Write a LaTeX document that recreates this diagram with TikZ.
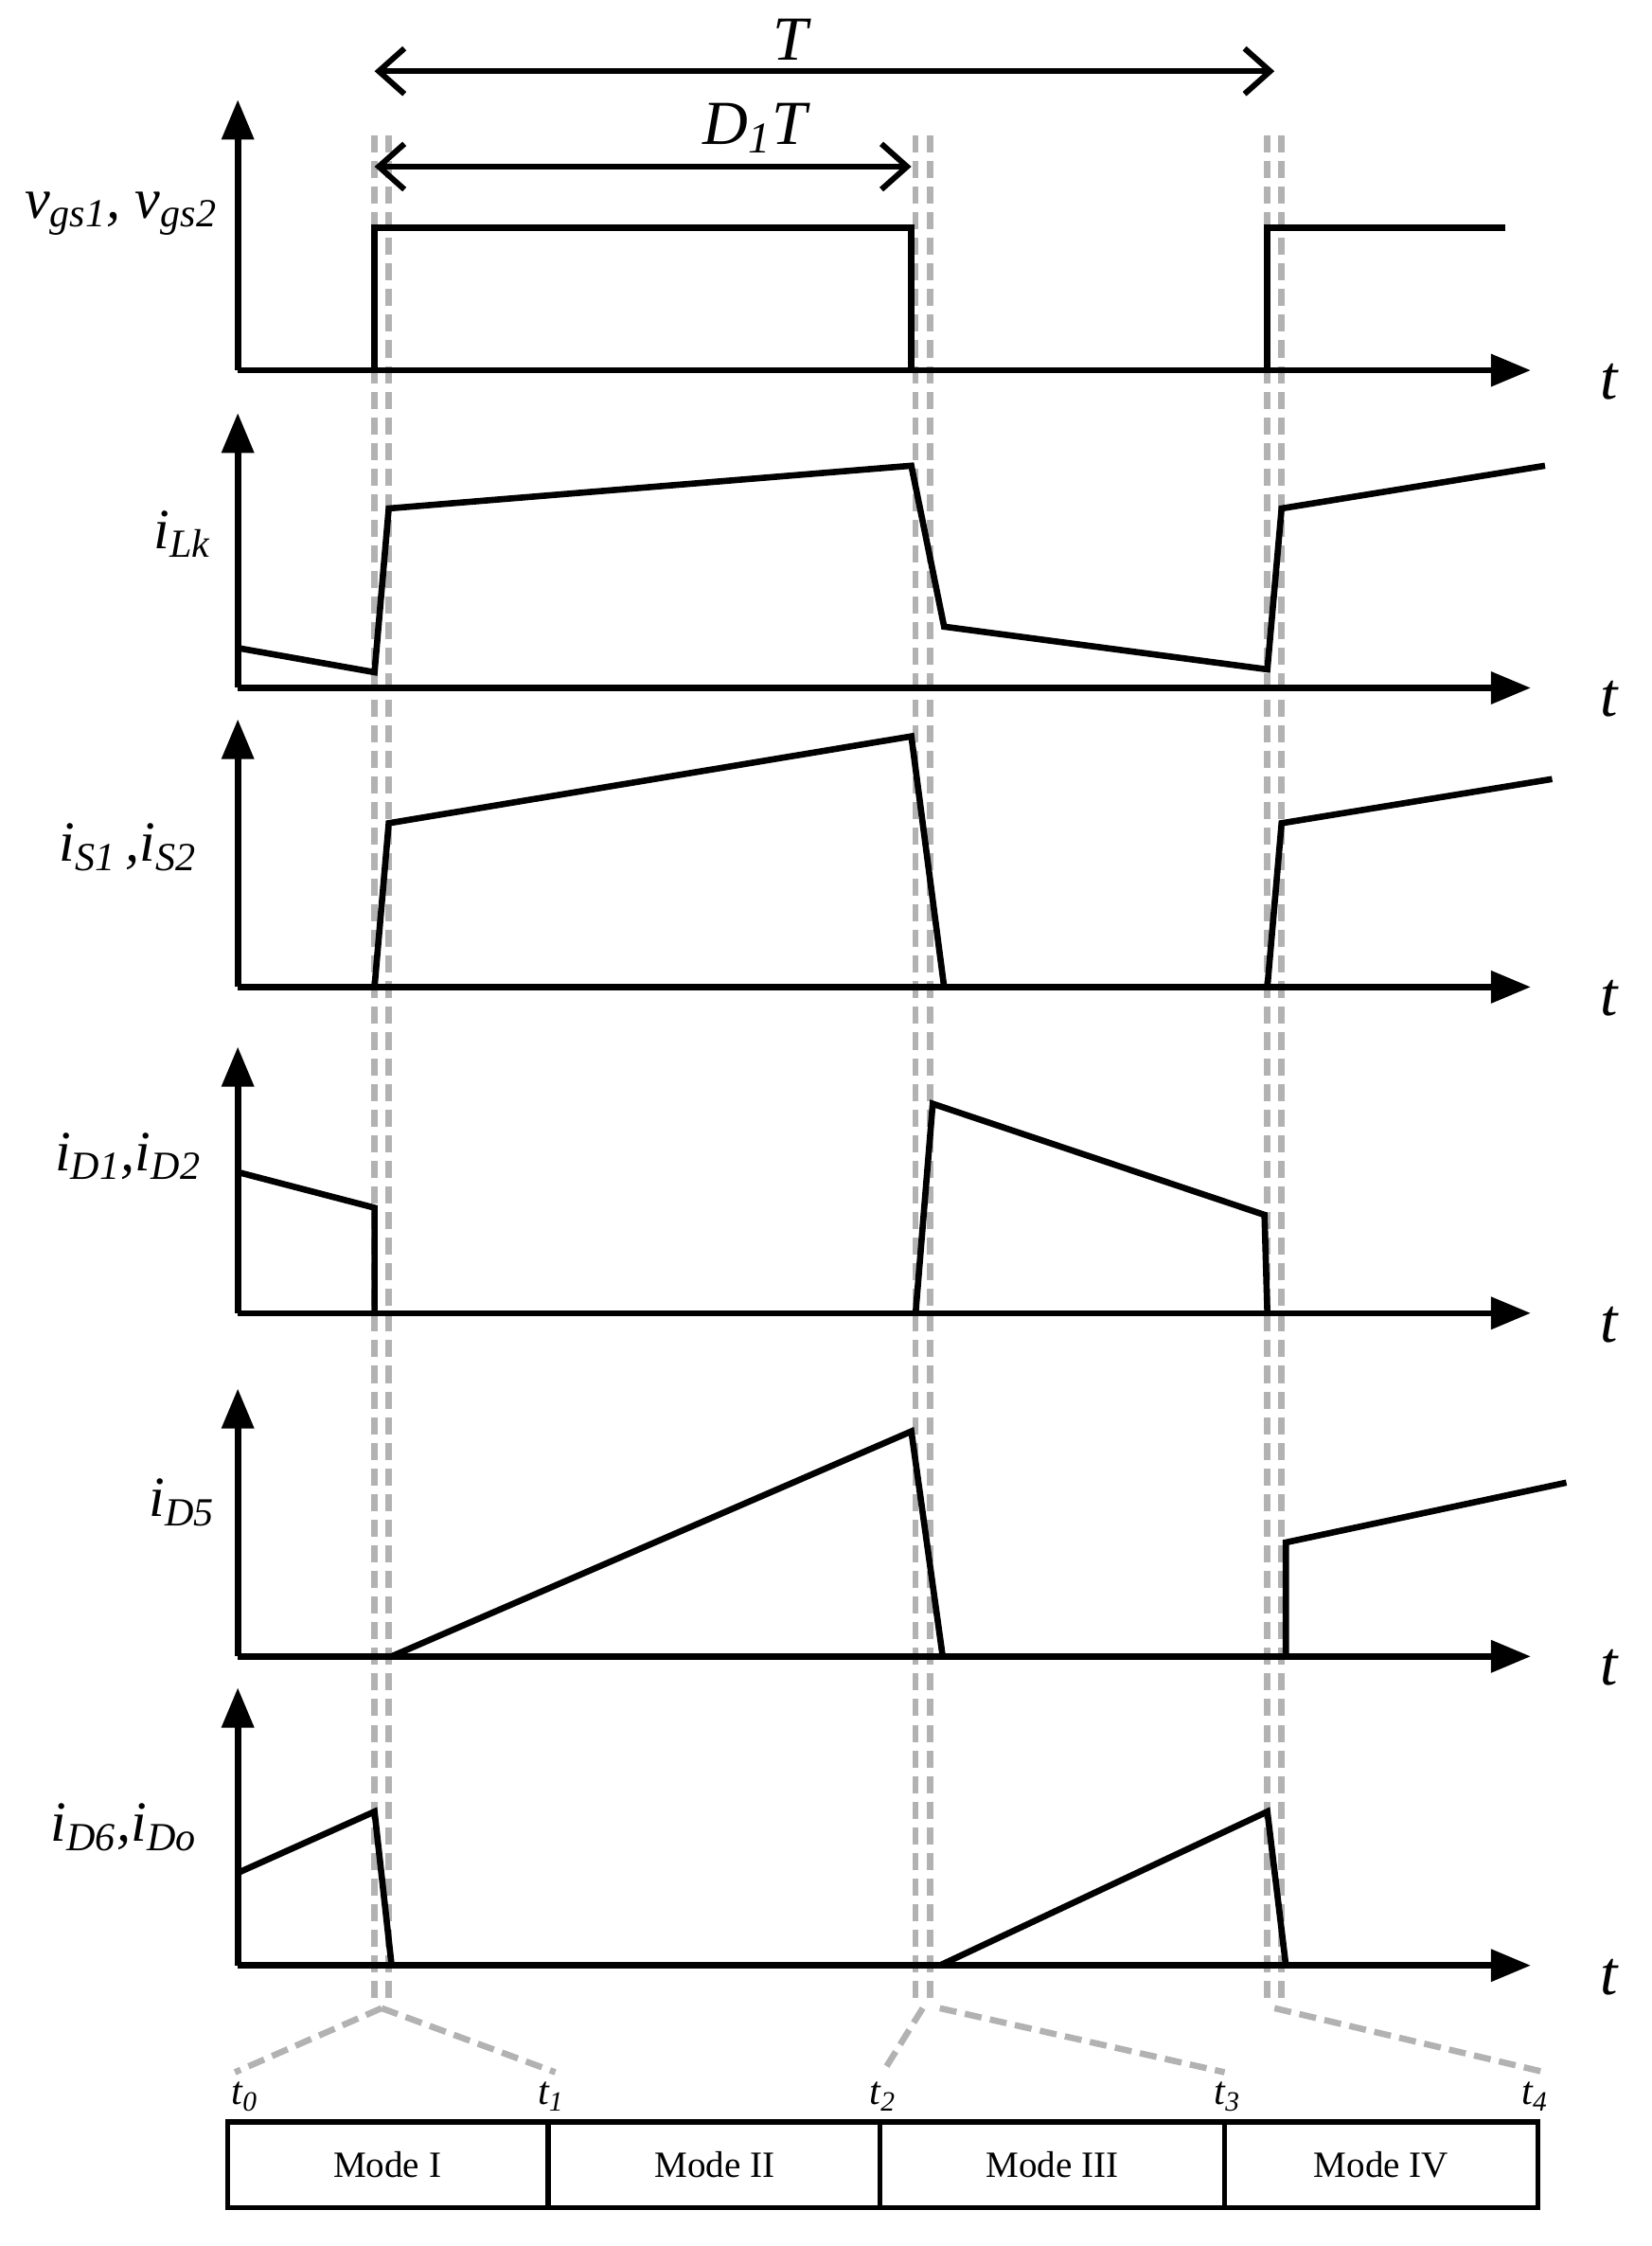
\documentclass[tikz,border=0pt]{standalone}
\usepackage{fontspec}
\setmainfont{Liberation Serif}
\usetikzlibrary{arrows.meta}
\begin{document}
\begin{tikzpicture}[x=0.5pt,y=-0.5pt,
  wave/.style={line width=2.2pt,line join=miter},
  axis/.style={line width=2.2pt,-{Triangle[length=14pt,width=11pt]}},
  guide/.style={gray!60,line width=2.2pt,dash pattern=on 6pt off 3pt},
  lab/.style={font=\fontsize{20}{22}\selectfont\itshape},
  tl/.style={font=\fontsize{22}{24}\selectfont\itshape},
  dim/.style={line width=2pt,{Straight Barb[length=9pt,width=16pt]}-{Straight Barb[length=9pt,width=16pt]}}]
\useasboundingbox (0,0) rectangle (1160,1577);
% guides
\foreach \x in {263,273,643,653,890,900}{\draw[guide] (\x,95) -- (\x,1408);}
\draw[guide] (268,1410) -- (165,1455);
\draw[guide] (268,1410) -- (390,1455);
\draw[guide] (648,1410) -- (620,1455);
\draw[guide] (660,1410) -- (860,1455);
\draw[guide] (895,1410) -- (1085,1455);
% axes
\foreach \b/\t in {260/70,483/290,693/505,922/735,1163/975,1380/1185}{
  \draw[axis] (167,\b) -- (167,\t);
  \draw[axis] (167,\b) -- (1075,\b);
  \node[tl] at (1130,\b+8) {t};
}
% waves
\draw[wave] (167,260)--(263,260)--(263,160)--(640,160)--(640,260)--(890,260)--(890,160)--(1057,160);
\draw[wave] (167,455)--(263,472)--(273,357)--(640,327)--(663,440)--(890,470)--(900,357)--(1085,327);
\draw[wave] (263,693)--(273,578)--(640,517)--(663,693);
\draw[wave] (890,693)--(900,578)--(1090,547);
\draw[wave] (167,823)--(263,848)--(263,922);
\draw[wave] (643,922)--(655,775)--(888,853)--(890,922);
\draw[wave] (275,1163)--(640,1005)--(662,1163);
\draw[wave] (903,1163)--(903,1083)--(1100,1041);
\draw[wave] (167,1315)--(263,1272)--(275,1380);
\draw[wave] (660,1380)--(890,1272)--(903,1380);
% dims
\draw[dim] (263,50) -- (895,50);
\node[tl] at (555,28) {T};
\draw[dim] (263,117) -- (640,117);
\node[tl] at (530,90) {D\textsubscript{1}T};
% labels
\node[lab] at (85,150) {v\textsubscript{gs1}, v\textsubscript{gs2}};
\node[lab] at (128,375) {i\textsubscript{Lk}};
\node[lab] at (90,595) {i\textsubscript{S1}\,,i\textsubscript{S2}};
\node[lab] at (90,812) {i\textsubscript{D1},i\textsubscript{D2}};
\node[lab] at (128,1055) {i\textsubscript{D5}};
\node[lab] at (87,1283) {i\textsubscript{D6},i\textsubscript{Do}};
% t labels
\foreach \x/\n in {172/0,387/1,620/2,862/3,1078/4}{\node[font=\fontsize{14}{16}\selectfont\itshape] at (\x,1472) {t\textsubscript{\n}};}
% mode box
\draw[line width=1.8pt] (160,1490) rectangle (1080,1550);
\foreach \x in {385,618,860}{\draw[line width=1.8pt] (\x,1490)--(\x,1550);}
\foreach \x/\m in {272/I,502/II,739/III,970/IV}{\node[font=\fontsize{13}{15}\selectfont] at (\x,1520) {Mode \m};}
\end{tikzpicture}
\end{document}
